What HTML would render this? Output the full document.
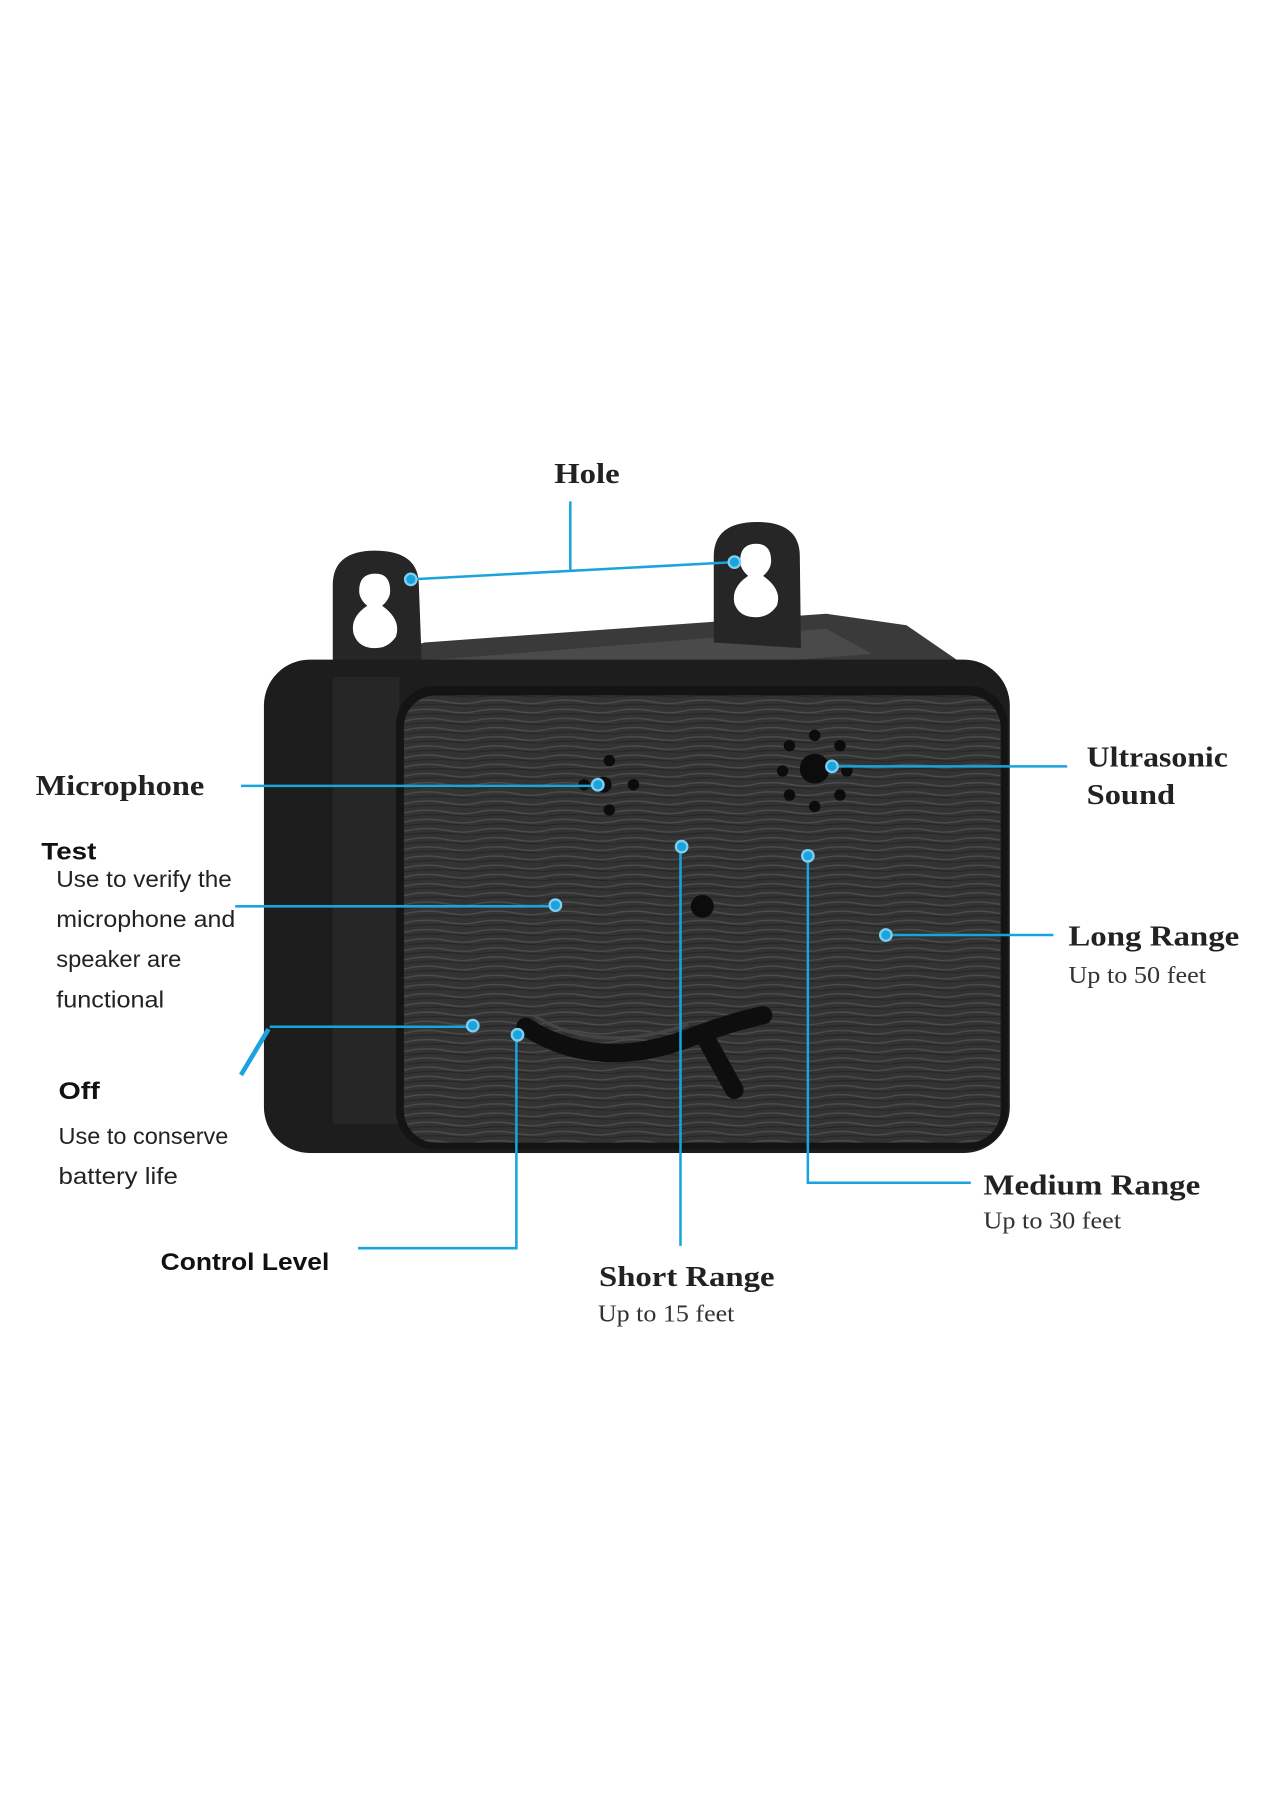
<!DOCTYPE html>
<html><head><meta charset="utf-8"><style>
html,body{margin:0;padding:0;background:#fff;}
svg{display:block;}
.s{font-family:"Liberation Serif",serif;font-weight:bold;font-size:25px;fill:#222;}
.sr{font-family:"Liberation Serif",serif;font-size:21px;fill:#333;}
.b{font-family:"Liberation Sans",sans-serif;font-weight:bold;font-size:21px;fill:#111;}
.r{font-family:"Liberation Sans",sans-serif;font-size:20px;fill:#222;}
.l{stroke:#1aa3dc;stroke-width:2.2;fill:none;}
.d{fill:#1aa3dc;stroke:#7fd0f0;stroke-width:2;}
</style></head><body>
<svg width="1268" height="1800" viewBox="0 0 1105 1569" preserveAspectRatio="none">
<defs>
<pattern id="tex" width="60" height="8" patternUnits="userSpaceOnUse">
<rect width="60" height="8" fill="#333"/>
<path d="M0 3 Q15 1 30 4 T60 3" stroke="#4c4c4c" stroke-width="1.2" fill="none"/>
<path d="M0 7 Q20 5 40 7 T60 6" stroke="#262626" stroke-width="1" fill="none"/>
</pattern>
</defs>
<polygon points="300,580 370,560 720,535 790,545 870,600 345,625" fill="#3a3a3a"/>
<polygon points="380,575 720,548 760,570 435,595" fill="#4a4a4a"/>
<path d="M290,590 L290,510 Q290,480 327,480 Q365,480 365,510 L368,590 Z" fill="#262626"/>
<path d="M327,500 Q340,500 340,515 Q340,522 333,528 Q350,540 345,555 Q338,565 327,565 Q312,565 308,552 Q305,538 320,528 Q313,522 313,515 Q313,500 327,500 Z" fill="#fff"/>
<path d="M622,560 L622,485 Q622,455 660,455 Q697,455 697,485 L698,565 Z" fill="#262626"/>
<path d="M659,474 Q672,474 672,489 Q672,496 665,502 Q682,514 677,528 Q670,538 659,538 Q644,538 640,526 Q637,512 652,502 Q645,496 645,489 Q645,474 659,474 Z" fill="#fff"/>
<rect x="230" y="575" width="650" height="430" rx="40" fill="#1d1d1d"/>
<rect x="290" y="590" width="58" height="390" fill="#262626"/>
<rect x="345" y="598" width="533" height="404" rx="34" fill="#141414"/>
<rect x="352" y="606" width="520" height="390" rx="28" fill="url(#tex)"/>
<g fill="#0c0c0c">
<circle cx="531" cy="663" r="5"/><circle cx="531" cy="706" r="5"/><circle cx="509" cy="684" r="5"/><circle cx="552" cy="684" r="5"/><circle cx="526" cy="684" r="7"/>
<circle cx="710" cy="670" r="13"/>
<circle cx="710" cy="641" r="5"/><circle cx="710" cy="703" r="5"/><circle cx="688" cy="650" r="5"/><circle cx="732" cy="650" r="5"/><circle cx="682" cy="672" r="5"/><circle cx="738" cy="672" r="5"/><circle cx="688" cy="693" r="5"/><circle cx="732" cy="693" r="5"/>
<circle cx="612" cy="790" r="10"/>
</g>
<path d="M458,895 Q520,935 600,905 Q640,890 665,885" stroke="#0e0e0e" stroke-width="16" fill="none" stroke-linecap="round"/>
<path d="M465,885 Q520,920 600,893" stroke="#444" stroke-width="3" fill="none"/>
<path d="M615,905 L640,950" stroke="#0e0e0e" stroke-width="16" stroke-linecap="round"/>
<path class="l" d="M497,437 L497,497 M358,505 L640,490"/>
<path class="l" d="M210,685 L521,685"/>
<path class="l" d="M725,668 L930,668"/>
<path class="l" d="M205,790 L484,790"/>
<path class="l" d="M235,895 L412,895"/>
<path d="M234,897 L210,937" stroke="#1aa3dc" stroke-width="4"/>
<path class="l" d="M312,1088 L450,1088 L450,902"/>
<path class="l" d="M593,738 L593,1086"/>
<path class="l" d="M704,746 L704,1031 L846,1031"/>
<path class="l" d="M772,815 L918,815"/>
<g class="d">
<circle cx="358" cy="505" r="5"/><circle cx="640" cy="490" r="5"/><circle cx="521" cy="684" r="5"/><circle cx="725" cy="668" r="5"/><circle cx="484" cy="789" r="5"/><circle cx="412" cy="894" r="5"/><circle cx="451" cy="902" r="5"/><circle cx="594" cy="738" r="5"/><circle cx="704" cy="746" r="5"/><circle cx="772" cy="815" r="5"/>
</g>
<text class="s" x="483" y="421" textLength="57" lengthAdjust="spacingAndGlyphs">Hole</text>
<text class="s" x="31" y="693" textLength="147" lengthAdjust="spacingAndGlyphs">Microphone</text>
<text class="s" x="947" y="668" textLength="123" lengthAdjust="spacingAndGlyphs">Ultrasonic</text>
<text class="s" x="947" y="701" textLength="77" lengthAdjust="spacingAndGlyphs">Sound</text>
<text class="s" x="931" y="824" textLength="149" lengthAdjust="spacingAndGlyphs">Long Range</text>
<text class="sr" x="931" y="857" textLength="120" lengthAdjust="spacingAndGlyphs">Up to 50 feet</text>
<text class="s" x="857" y="1041" textLength="189" lengthAdjust="spacingAndGlyphs">Medium Range</text>
<text class="sr" x="857" y="1071" textLength="120" lengthAdjust="spacingAndGlyphs">Up to 30 feet</text>
<text class="s" x="522" y="1121" textLength="153" lengthAdjust="spacingAndGlyphs">Short Range</text>
<text class="sr" x="521" y="1152" textLength="119" lengthAdjust="spacingAndGlyphs">Up to 15 feet</text>
<text class="b" x="36" y="749" textLength="48" lengthAdjust="spacingAndGlyphs">Test</text>
<text class="r" x="49" y="773" textLength="153" lengthAdjust="spacingAndGlyphs">Use to verify the</text>
<text class="r" x="49" y="808" textLength="156" lengthAdjust="spacingAndGlyphs">microphone and</text>
<text class="r" x="49" y="843" textLength="109" lengthAdjust="spacingAndGlyphs">speaker are</text>
<text class="r" x="49" y="878" textLength="94" lengthAdjust="spacingAndGlyphs">functional</text>
<text class="b" x="51" y="958" textLength="36" lengthAdjust="spacingAndGlyphs">Off</text>
<text class="r" x="51" y="997" textLength="148" lengthAdjust="spacingAndGlyphs">Use to conserve</text>
<text class="r" x="51" y="1032" textLength="104" lengthAdjust="spacingAndGlyphs">battery life</text>
<text class="b" x="140" y="1107" textLength="147" lengthAdjust="spacingAndGlyphs">Control Level</text>
</svg>
</body></html>
